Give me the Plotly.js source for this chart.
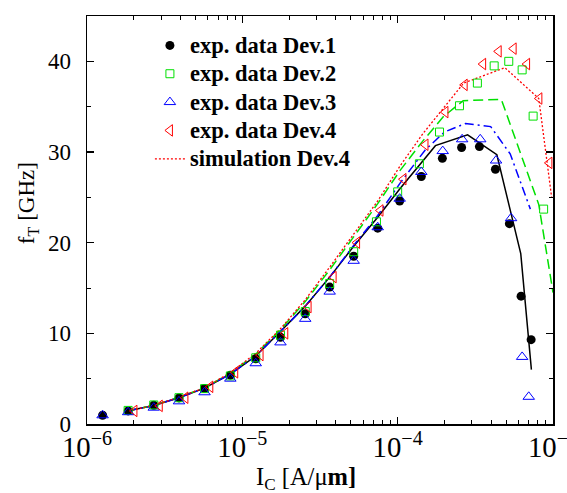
<!DOCTYPE html>
<html>
<head>
<meta charset="utf-8">
<script src="https://cdn.plot.ly/plotly-3.0.1.min.js"></script>
<style>html,body{margin:0;padding:0;background:#fff;}#chart{width:567px;height:493px;}</style>
</head>
<body>
<div id="chart"></div>
<script>
// ---- experimental data ----
const dev1X = [1.26e-6, 1.84e-6, 2.69e-6, 3.91e-6, 5.71e-6, 8.37e-6, 1.22e-5, 1.76e-5, 2.54e-5, 3.65e-5, 5.21e-5, 7.44e-5, 1.03e-4, 1.42e-4, 1.94e-4, 2.58e-4, 3.36e-4, 4.26e-4, 5.24e-4, 6.23e-4, 7.23e-4];
const dev1Y = [0.96, 1.44, 2.07, 2.88, 3.92, 5.39, 7.2, 9.57, 12.15, 15.1, 18.5, 21.6, 24.6, 27.3, 29.3, 30.5, 30.6, 28.1, 22.1, 14.1, 9.3];

const dev2X = [1.84e-6, 2.69e-6, 3.91e-6, 5.71e-6, 8.37e-6, 1.22e-5, 1.76e-5, 2.54e-5, 3.65e-5, 5.21e-5, 7.3e-5, 1.0e-4, 1.38e-4, 1.86e-4, 2.5e-4, 3.26e-4, 4.18e-4, 5.19e-4, 6.33e-4, 7.45e-4, 8.7e-4];
const dev2Y = [1.5, 2.1, 2.9, 3.9, 5.3, 7.3, 9.8, 12.4, 15.5, 19.0, 22.3, 25.6, 28.7, 32.2, 35.1, 37.6, 39.5, 40.0, 39.06, 33.96, 23.7];

const dev3X = [1.26e-6, 1.84e-6, 2.69e-6, 3.91e-6, 5.71e-6, 8.37e-6, 1.22e-5, 1.76e-5, 2.54e-5, 3.65e-5, 5.21e-5, 7.44e-5, 1.03e-4, 1.42e-4, 1.95e-4, 2.6e-4, 3.4e-4, 4.3e-4, 5.37e-4, 6.33e-4, 6.98e-4];
const dev3Y = [0.96, 1.3, 1.8, 2.5, 3.5, 5.0, 6.7, 9.0, 11.6, 14.6, 18.0, 21.7, 24.85, 27.8, 30.1, 31.4, 31.4, 29.06, 22.7, 7.4, 3.0];

const dev4X = [2.02e-6, 2.94e-6, 4.3e-6, 6.22e-6, 9.0e-6, 1.31e-5, 1.89e-5, 2.67e-5, 3.87e-5, 5.48e-5, 7.75e-5, 1.09e-4, 1.51e-4, 2.03e-4, 2.7e-4, 3.55e-4, 4.47e-4, 5.58e-4, 6.81e-4, 8.17e-4, 9.48e-4];
const dev4Y = [1.44, 2.0, 2.9, 4.1, 5.7, 7.6, 10.0, 12.9, 16.2, 20.0, 23.55, 27.0, 30.8, 34.4, 37.4, 39.7, 41.1, 41.4, 39.7, 35.9, 28.8];

// ---- simulation curves ----
const simLowX = [1.84e-6, 2.69e-6, 3.91e-6, 5.71e-6, 8.37e-6, 1.22e-5, 1.76e-5, 2.54e-5, 3.65e-5, 5.21e-5, 7.44e-5, 1.04e-4];

const sim1X = simLowX.concat([1.75e-4, 2.82e-4, 4.35e-4, 6.2e-4, 7.26e-4]);
const sim1Y = [1.45, 2.05, 2.9, 3.95, 5.5, 7.5, 10.2, 13.0, 16.2, 19.6, 22.8, 26.0, 30.7, 31.9, 29.7, 18.8, 6.0];

const sim2X = simLowX.concat([1.45e-4, 1.97e-4, 2.64e-4, 4.65e-4, 8.1e-4, 1.0e-3]);
const sim2Y = [1.45, 2.05, 2.95, 4.0, 5.6, 7.7, 10.4, 13.5, 17.0, 20.6, 24.3, 28.0, 31.2, 33.9, 35.66, 35.8, 24.2, 14.5];

const sim3X = simLowX.concat([1.5e-4, 2.0e-4, 2.73e-4, 3.97e-4, 5.3e-4, 7.15e-4]);
const sim3Y = [1.45, 2.05, 2.9, 3.95, 5.5, 7.5, 10.2, 13.0, 16.2, 19.7, 23.0, 26.6, 30.2, 32.2, 33.15, 32.8, 29.8, 23.7];

const sim4X = simLowX.concat([1.45e-4, 2.66e-4, 4.9e-4, 8.1e-4, 9.8e-4]);
const sim4Y = [1.45, 2.05, 2.95, 4.0, 5.65, 7.8, 10.5, 13.7, 17.3, 20.9, 24.6, 28.5, 32.0, 37.6, 39.3, 35.9, 25.0];

const names = ['exp. data Dev.1', 'exp. data Dev.2', 'exp. data Dev.3', 'exp. data Dev.4', 'simulation Dev.4'];

const BLACK = '#000000', GREEN = '#00e000', BLUE = '#0000ff', RED = '#ff0000';

// legend text slightly larger than the legend font (keeps the row spacing compact)
const lg = s => '<span style="font-size:22.5px">' + s + '</span>';

const traces = [
  {x: sim1X, y: sim1Y, mode: 'lines', line: {color: BLACK, width: 1.5}, showlegend: false, hoverinfo: 'skip'},
  {x: sim2X, y: sim2Y, mode: 'lines', line: {color: GREEN, width: 1.5, dash: '10px,5px'}, showlegend: false, hoverinfo: 'skip'},
  {x: sim3X, y: sim3Y, mode: 'lines', line: {color: BLUE, width: 1.5, dash: '9px,4px,2px,4px'}, showlegend: false, hoverinfo: 'skip'},
  {x: sim4X, y: sim4Y, mode: 'lines', name: lg(names[4]), legendrank: 5, line: {color: RED, width: 1.3, dash: '2px,2px'}},
  {x: dev1X, y: dev1Y, mode: 'markers', name: lg(names[0]), legendrank: 1, marker: {symbol: 'circle', size: 9, color: BLACK}},
  {x: dev2X, y: dev2Y, mode: 'markers', name: lg(names[1]), legendrank: 2, marker: {symbol: 'square-open', size: 8, color: GREEN, line: {width: 1}}},
  {x: dev3X, y: dev3Y, mode: 'markers', name: lg(names[2]), legendrank: 3, marker: {symbol: 'triangle-up-open', size: 10, color: BLUE, line: {width: 1}}},
  {x: dev4X, y: dev4Y, mode: 'markers', name: lg(names[3]), legendrank: 4, marker: {symbol: 'triangle-left-open', size: 10, color: RED, line: {width: 1}}}
];

const serif = 'Liberation Serif, Times New Roman, serif';

const layout = {
  width: 567, height: 493,
  margin: {l: 87, r: 14, t: 16, b: 69},
  paper_bgcolor: '#fff', plot_bgcolor: '#fff',
  font: {family: serif, color: '#000', size: 23},
  showlegend: true,
  legend: {
    x: 0.135, y: 0.975, xanchor: 'left', yanchor: 'top',
    bgcolor: 'rgba(0,0,0,0)', borderwidth: 0,
    font: {family: serif, size: 19.5, weight: 'bold', color: '#000'},
    traceorder: 'normal'
  },
  xaxis: {
    type: 'log', range: [-6, -3], dtick: 1, exponentformat: 'power',
    showline: true, linecolor: '#000', linewidth: 1.5, mirror: 'ticks',
    ticks: 'inside', ticklen: 7, tickwidth: 1.2, tickcolor: '#000',
    minor: {ticks: 'inside', ticklen: 4, tickwidth: 1, tickcolor: '#000', dtick: 'D1'},
    showgrid: false, zeroline: false,
    ticklabelstandoff: -2,
    ticklabeloverflow: 'allow',
    tickfont: {family: serif, size: 23, color: '#000'}
  },
  yaxis: {
    range: [0, 45], dtick: 10,
    showline: true, linecolor: '#000', linewidth: 1.5, mirror: 'ticks',
    ticks: 'inside', ticklen: 7, tickwidth: 1.2, tickcolor: '#000',
    minor: {ticks: 'inside', ticklen: 4, tickwidth: 1, tickcolor: '#000', dtick: 5},
    showgrid: false, zeroline: false,
    ticklabelstandoff: 10,
    tickfont: {family: serif, size: 23, color: '#000'}
  },
  annotations: [
    {xref: 'paper', yref: 'paper', x: (306 - 87) / 466, y: -(478 - 423.7) / 407.7, xanchor: 'center', yanchor: 'middle',
     text: 'I<sub>C</sub> [A/μ<b>m]</b>', showarrow: false, font: {family: serif, size: 24.5, color: '#000'}},
    {xref: 'paper', yref: 'paper', x: (28 - 87) / 466, y: (423.7 - 203) / 407.7, xanchor: 'center', yanchor: 'middle',
     text: 'f<sub>T</sub> [GHz]', textangle: -90, showarrow: false, font: {family: serif, size: 23, color: '#000'}}
  ]
};

Plotly.newPlot('chart', traces, layout, {displayModeBar: false, staticPlot: true});
</script>
</body>
</html>
